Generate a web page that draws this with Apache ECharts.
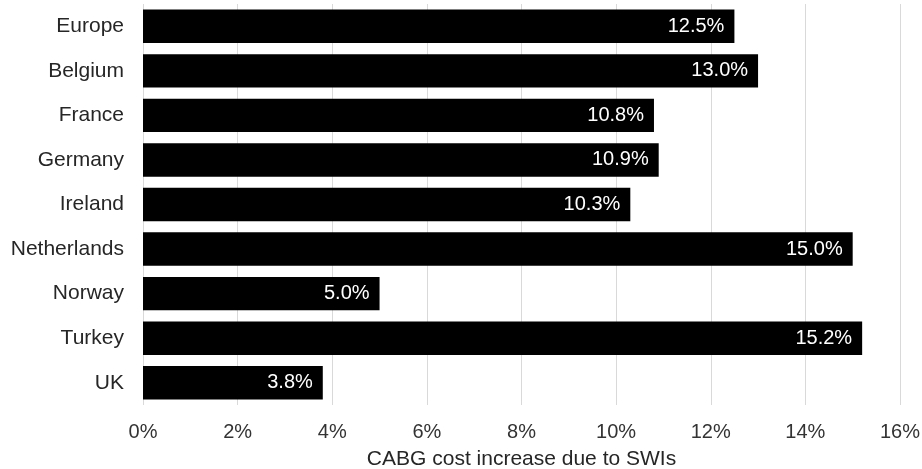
<!DOCTYPE html>
<html>
<head>
<meta charset="utf-8">
<script src="https://cdn.jsdelivr.net/npm/echarts@6/dist/echarts.min.js"></script>
<style>
html,body{margin:0;padding:0;background:#fff;}
#chart{width:922px;height:469px;}
</style>
</head>
<body>
<div id="chart"></div>
<script>
const categories = ["Europe", "Belgium", "France", "Germany", "Ireland", "Netherlands", "Norway", "Turkey", "UK"];
const values = [12.5, 13.0, 10.8, 10.9, 10.3, 15.0, 5.0, 15.2, 3.8];
const xTicks = [0, 2, 4, 6, 8, 10, 12, 14, 16];
const axisTitle = "CABG cost increase due to SWIs";

const FONT = 'Liberation Sans, Arial';
const chart = echarts.init(document.getElementById('chart'));
chart.setOption({
  animation: false,
  grid: { left: 143, right: 22, top: 4, bottom: 64, containLabel: false, outerBoundsMode: 'none' },
  xAxis: {
    type: 'value',
    min: xTicks[0],
    max: xTicks[xTicks.length - 1],
    interval: 2,
    name: axisTitle,
    nameLocation: 'middle',
    nameGap: 44,
    nameTextStyle: { fontFamily: FONT, fontSize: 21, color: '#262626' },
    axisLine: { show: false },
    axisTick: { show: false },
    axisLabel: {
      formatter: v => v + '%',
      margin: 17,
      fontFamily: FONT, fontSize: 20, color: '#333333'
    },
    splitLine: { show: true, lineStyle: { color: '#d9d9d9', width: 1 } }
  },
  yAxis: {
    type: 'category',
    data: categories,
    inverse: true,
    axisLine: { show: false },
    axisTick: { show: false },
    axisLabel: { margin: 19, fontFamily: FONT, fontSize: 21, color: '#262626' }
  },
  series: [{
    type: 'bar',
    data: values,
    barWidth: '75%',
    itemStyle: { color: '#000000' },
    label: {
      show: true,
      position: 'insideRight',
      distance: 10,
      formatter: p => p.value.toFixed(1) + '%',
      fontFamily: FONT, fontSize: 20, color: '#ffffff'
    }
  }]
});
</script>
</body>
</html>
